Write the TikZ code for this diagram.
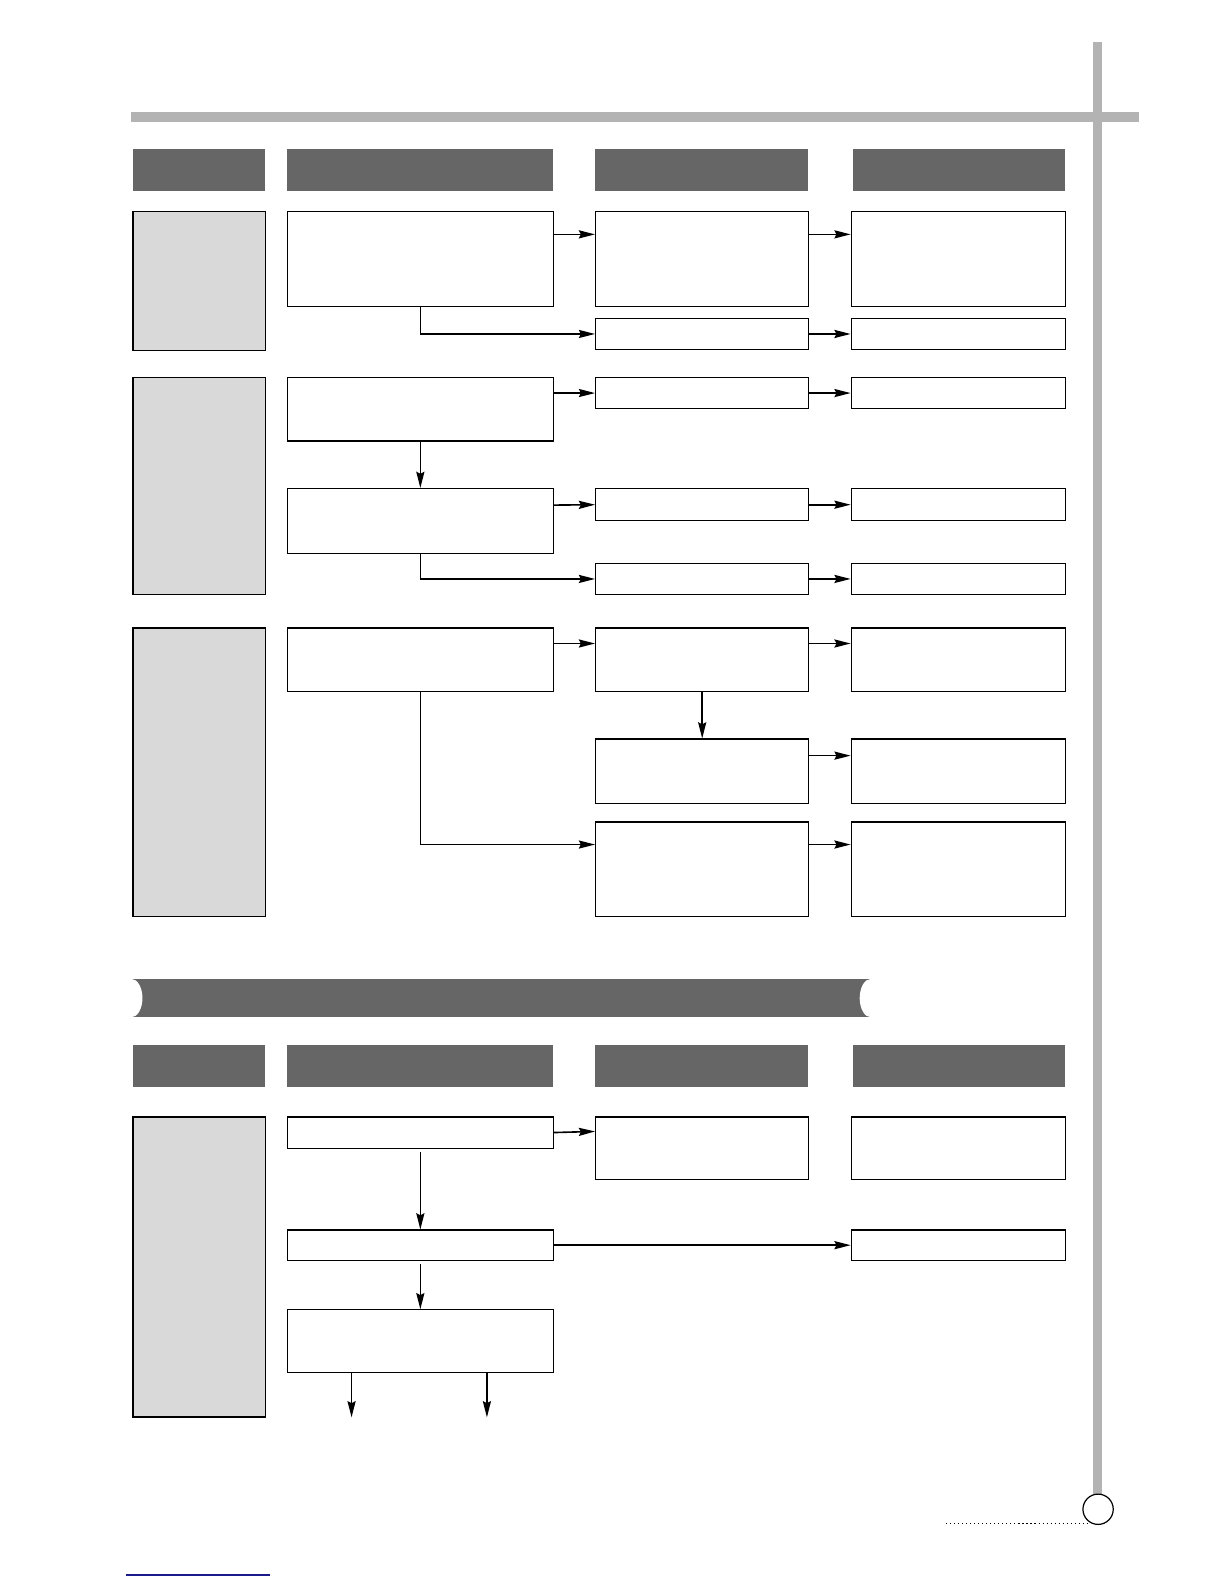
\documentclass[tikz,border=0pt]{standalone}
\usetikzlibrary{arrows.meta}
\definecolor{entete}{HTML}{666666}
\definecolor{cadre}{HTML}{D9D9D9}
\definecolor{barre}{HTML}{B3B3B3}
\definecolor{lien}{HTML}{1A1A8C}
\tikzset{
  boite/.style={draw, line width=1.2pt, inner sep=0pt, anchor=north west, fill=white},
  titre/.style={fill=entete, inner sep=0pt, anchor=north west, minimum height=42pt},
  laterale/.style={boite, fill=cadre, minimum width=131pt},
  col1/.style={minimum width=263pt},
  col2/.style={minimum width=211pt},
  col3/.style={minimum width=212pt},
  fleche/.style={line width=1.6pt, -{Stealth[length=16pt,width=8pt,inset=2pt]}}
}
\begin{document}
\begin{tikzpicture}[x=1pt, y=-1pt]
    \useasboundingbox (0,0) rectangle (1212,1568);

    % Barres grises du cadre
    \fill[barre] (130,111) rectangle (1127,121);
    \fill[barre] (1082,42) rectangle (1091,1480);

    % En-tetes des colonnes
    \foreach \y/\s in {147/a, 1034/b} {
        \node[titre, minimum width=131pt] (t\s0) at (131,\y) {};
        \node[titre, col1] (t\s1) at (284,\y) {};
        \node[titre, col2] (t\s2) at (589,\y) {};
        \node[titre, minimum width=210pt] (t\s3) at (844,\y) {};
    }

    % Premier groupe
    \node[laterale, minimum height=137pt] (a0) at (131,209) {};
    \node[boite, col1, minimum height=94pt] (a1) at (284,209) {};
    \node[boite, col2, minimum height=94pt] (a2) at (589,209) {};
    \node[boite, col3, minimum height=94pt] (a3) at (842,209) {};
    \node[boite, col2, minimum height=30pt] (a4) at (589,315) {};
    \node[boite, col3, minimum height=30pt] (a5) at (842,315) {};
    \draw[fleche] ([yshift=-23pt]a1.north east) -- ([yshift=-23pt]a2.north west);
    \draw[fleche] ([yshift=-23pt]a2.north east) -- ([yshift=-23pt]a3.north west);
    \draw[fleche] (a1.south) |- (a4.west);
    \draw[fleche] (a4.east) -- (a5.west);

    % Deuxieme groupe
    \node[laterale, minimum height=215pt] (b0) at (131,373) {};
    \node[boite, col1, minimum height=63pt] (b1) at (284,373) {};
    \node[boite, col2, minimum height=31pt] (b2) at (589,373) {};
    \node[boite, col3, minimum height=31pt] (b3) at (842,373) {};
    \draw[fleche] ([yshift=-16pt]b1.north east) -- (b2.west);
    \draw[fleche] (b2.east) -- (b3.west);
    \node[boite, col1, minimum height=64pt] (b4) at (284,483) {};
    \node[boite, col2, minimum height=32pt] (b5) at (589,483) {};
    \node[boite, col3, minimum height=32pt] (b6) at (842,483) {};
    \draw[fleche] (b1.south) -- (b4.north);
    \draw[fleche] ([yshift=-17pt]b4.north east) -- (b5.west);
    \draw[fleche] (b5.east) -- (b6.west);
    \node[boite, col2, minimum height=31pt] (b7) at (589,557) {};
    \node[boite, col3, minimum height=31pt] (b8) at (842,557) {};
    \draw[fleche] (b4.south) |- (b7.west);
    \draw[fleche] (b7.east) -- (b8.west);

    % Troisieme groupe
    \node[laterale, minimum height=286pt] (c0) at (131,621) {};
    \node[boite, col1, minimum height=63pt] (c1) at (284,621) {};
    \node[boite, col2, minimum height=63pt] (c2) at (589,621) {};
    \node[boite, col3, minimum height=63pt] (c3) at (842,621) {};
    \draw[fleche] ([yshift=-16pt]c1.north east) -- ([yshift=-16pt]c2.north west);
    \draw[fleche] ([yshift=-16pt]c2.north east) -- ([yshift=-16pt]c3.north west);
    \node[boite, col2, minimum height=64pt] (c4) at (589,731) {};
    \node[boite, col3, minimum height=64pt] (c5) at (842,731) {};
    \draw[fleche] (c2.south) -- (c4.north);
    \draw[fleche] ([yshift=-17pt]c4.north east) -- ([yshift=-17pt]c5.north west);
    \node[boite, col2, minimum height=94pt] (c6) at (589,813) {};
    \node[boite, col3, minimum height=94pt] (c7) at (842,813) {};
    \draw[fleche] (c1.south) |- ([yshift=-23pt]c6.north west);
    \draw[fleche] ([yshift=-23pt]c6.north east) -- ([yshift=-23pt]c7.north west);

    % Bandeau
    \fill[entete] (130,969) rectangle (862,1007);
    \fill[white] (130,988) ellipse [x radius=11, y radius=19];
    \fill[white] (862,988) ellipse [x radius=11, y radius=19];

    % Seconde partie
    \node[laterale, minimum height=297pt] (d0) at (131,1105) {};
    \node[boite, col1, minimum height=31pt] (d1) at (284,1105) {};
    \node[boite, col2, minimum height=62pt] (d2) at (589,1105) {};
    \node[boite, col3, minimum height=62pt] (d3) at (842,1105) {};
    \draw[fleche] (d1.east) -- ([yshift=-15pt]d2.north west);
    \node[boite, col1, minimum height=30pt] (d4) at (284,1217) {};
    \node[boite, col3, minimum height=30pt] (d5) at (842,1217) {};
    \draw[fleche, shorten <=3pt] (d1.south) -- (d4.north);
    \draw[fleche] (d4.east) -- (d5.west);
    \node[boite, col1, minimum height=62pt] (d6) at (284,1296) {};
    \draw[fleche, shorten <=3pt] (d4.south) -- (d6.north);
    \coordinate (s1) at (348,1403);
    \coordinate (s2) at (482,1403);
    \draw[fleche] (s1 |- d6.south) -- (s1);
    \draw[fleche] (s2 |- d6.south) -- (s2);

    % Numero de page
    \node[draw, circle, line width=1.2pt, minimum size=30pt, fill=white] (page) at (1087,1494) {};
    \coordinate (pt) at (936,1508);
    \draw[line width=1.2pt, dash pattern=on 1.2pt off 2.8pt] (pt) -- ([xshift=-8pt]pt -| page.south);
    \draw[lien, line width=1.5pt] (125,1559) -- (267,1559);
\end{tikzpicture}
\end{document}
